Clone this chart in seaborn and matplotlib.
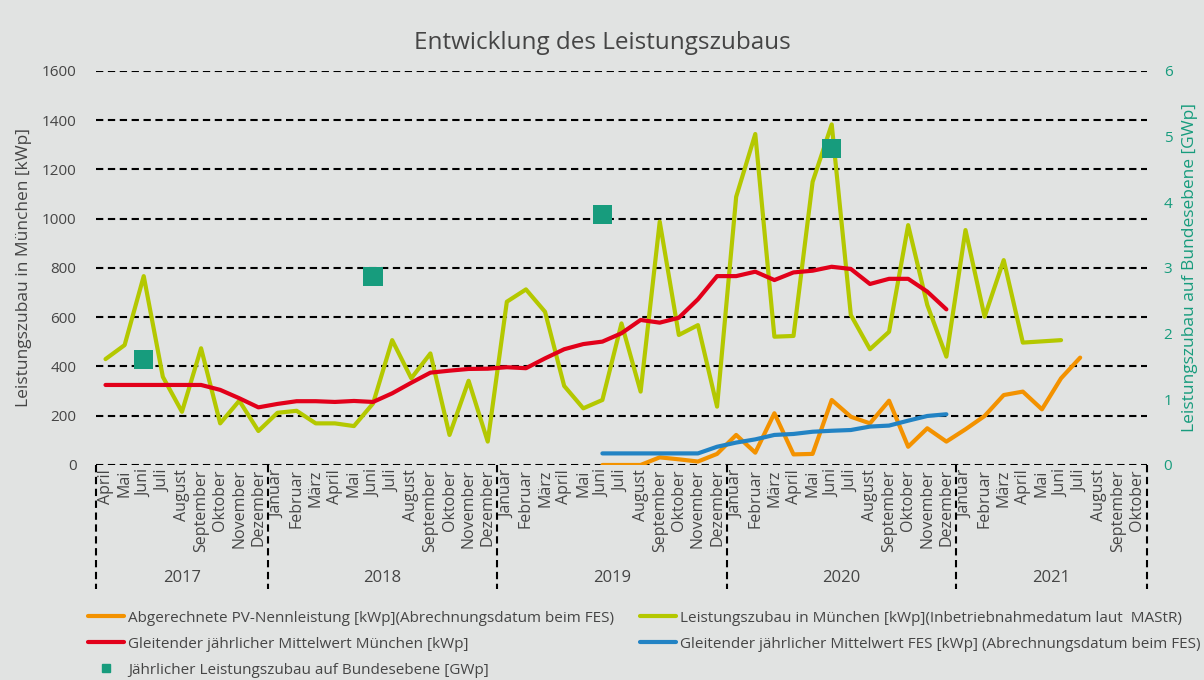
import numpy as np
import pandas as pd
import matplotlib.pyplot as plt
import seaborn as sns
from matplotlib.lines import Line2D

# data, monthly from April 2017 to October 2021
years = ["2017", "2018", "2019", "2020", "2021"]
months_per_year = [
    ["April", "Mai", "Juni", "Juli", "August", "September", "Oktober", "November", "Dezember"],
    ["Januar", "Februar", "März", "April", "Mai", "Juni", "Juli", "August", "September", "Oktober", "November", "Dezember"],
    ["Januar", "Februar", "März", "April", "Mai", "Juni", "Juli", "August", "September", "Oktober", "November", "Dezember"],
    ["Januar", "Februar", "März", "April", "Mai", "Juni", "Juli", "August", "September", "Oktober", "November", "Dezember"],
    ["Januar", "Februar", "März", "April", "Mai", "Juni", "Juli", "August", "September", "Oktober"],
]
nan = np.nan

zubau_muenchen = [
    430, 487, 767, 358, 216, 474, 169, 261, 138,
    212, 220, 169, 169, 158, 250, 507, 352, 453, 122, 342, 95,
    663, 713, 622, 321, 230, 264, 575, 298, 988, 528, 568, 237,
    1089, 1344, 521, 524, 1150, 1383, 609, 470, 541, 974, 650, 440,
    954, 602, 832, 497, 502, 507, nan, nan, nan, nan,
]
mittel_muenchen = [
    325, 325, 325, 325, 325, 325, 305, 271, 234,
    248, 259, 259, 256, 260, 256, 291, 334, 375, 383, 390, 391,
    397, 393, 433, 470, 491, 501, 535, 589, 578, 598, 673, 767,
    767, 785, 751, 782, 789, 805, 796, 735, 756, 756, 704, 632,
    nan, nan, nan, nan, nan, nan, nan, nan, nan, nan,
]
mittel_fes = [
    nan, nan, nan, nan, nan, nan, nan, nan, nan,
    nan, nan, nan, nan, nan, nan, nan, nan, nan, nan, nan, nan,
    nan, nan, nan, nan, nan, 47, 47, 47, 47, 47, 47, 74,
    91, 104, 122, 126, 135, 139, 142, 156, 160, 180, 199, 206,
    nan, nan, nan, nan, nan, nan, nan, nan, nan, nan,
]
pv_fes = [
    nan, nan, nan, nan, nan, nan, nan, nan, nan,
    nan, nan, nan, nan, nan, nan, nan, nan, nan, nan, nan, nan,
    nan, nan, nan, nan, nan, 0, 0, 0, 31, 23, 14, 45,
    122, 50, 210, 43, 45, 264, 196, 169, 261, 74, 149, 95,
    145, 199, 284, 298, 226, 352, 436, nan, nan, nan,
]
# yearly additions in Germany (GWp), shown at June of each year
bund_monat = [2, 14, 26, 38]
bund_gwp = [1.60, 2.87, 3.82, 4.82]

labels = {
    "pv": "Abgerechnete PV-Nennleistung [kWp](Abrechnungsdatum beim FES)",
    "zubau": "Leistungszubau in München [kWp](Inbetriebnahmedatum laut  MAStR)",
    "mittel": "Gleitender jährlicher Mittelwert München [kWp]",
    "fes": "Gleitender jährlicher Mittelwert FES [kWp] (Abrechnungsdatum beim FES)",
    "bund": "Jährlicher Leistungszubau auf Bundesebene [GWp]",
}

c_orange = "#f39200"
c_green = "#b4c800"
c_red = "#e2001a"
c_blue = "#2283c4"
c_teal = "#179c7d"
c_text = "#454545"
bg = "#e1e3e2"

month_labels = [m for ms in months_per_year for m in ms]
n = len(month_labels)
df = pd.DataFrame({
    "idx": np.arange(n),
    "zubau": zubau_muenchen,
    "mittel": mittel_muenchen,
    "fes": mittel_fes,
    "pv": pv_fes,
})

sns.set_style("white", {"axes.facecolor": bg, "figure.facecolor": bg})
plt.rcParams["font.family"] = ["Open Sans", "DejaVu Sans"]

fig = plt.figure(figsize=(12.04, 6.8), dpi=100)
ax = fig.add_axes([0.0797, 0.3162, 0.8730, 0.5794])
ax.set_facecolor(bg)

# dashed grid lines
dash = (0, (3.5, 2.2))
for yv in range(0, 1601, 200):
    ax.axhline(yv, color="black", lw=1.5, linestyle=dash, zorder=1)

lw = 3.0
sns.lineplot(data=df, x="idx", y="pv", color=c_orange, lw=lw, ax=ax, zorder=3)
sns.lineplot(data=df, x="idx", y="zubau", color=c_green, lw=lw, ax=ax, zorder=3)
sns.lineplot(data=df, x="idx", y="mittel", color=c_red, lw=lw, ax=ax, zorder=4)
sns.lineplot(data=df, x="idx", y="fes", color=c_blue, lw=lw, ax=ax, zorder=4)

ax.set_xlim(-0.5, n - 0.5)
ax.set_ylim(0, 1600)
ax.set_yticks(range(0, 1601, 200))
ax.set_xticks(np.arange(n))
ax.set_xticklabels(month_labels, rotation=90, fontsize=11.5, color=c_text)
ax.tick_params(axis="x", length=0, pad=3)
ax.tick_params(axis="y", length=0, labelsize=11, labelcolor=c_text, pad=14)
ax.set_xlabel("")
ax.set_ylabel("Leistungszubau in München [kWp]", fontsize=12.5, color=c_text, labelpad=7)
for s in ax.spines.values():
    s.set_visible(False)

# year separators and year labels
bounds = np.cumsum([0] + [len(m) for m in months_per_year]) - 0.5
trans = ax.get_xaxis_transform()
for b in bounds:
    ax.plot([b, b], [0, -0.315], transform=trans, color="black", lw=1.5,
            linestyle=dash, clip_on=False)
for i, y in enumerate(years):
    ax.text((bounds[i] + bounds[i + 1]) / 2, -0.287, y, transform=trans,
            ha="center", va="center", fontsize=12, color=c_text)

# secondary axis for Germany
ax2 = ax.twinx()
sns.scatterplot(x=bund_monat, y=bund_gwp, marker="s", s=190, color=c_teal,
                edgecolor="none", ax=ax2, zorder=5)
ax2.set_ylim(0, 6)
ax2.set_yticks(range(0, 7))
ax2.tick_params(axis="y", length=0, labelsize=11, labelcolor=c_teal, pad=12)
ax2.set_ylabel("Leistungszubau auf Bundesebene [GWp]", fontsize=12.5, color=c_teal, labelpad=7)
for s in ax2.spines.values():
    s.set_visible(False)

fig.suptitle("Entwicklung des Leistungszubaus", y=0.955, fontsize=17.5, color=c_text)

# legend in two blocks
h = {
    "pv": Line2D([], [], color=c_orange, lw=3),
    "zubau": Line2D([], [], color=c_green, lw=3),
    "mittel": Line2D([], [], color=c_red, lw=3),
    "fes": Line2D([], [], color=c_blue, lw=3),
    "bund": Line2D([], [], color=c_teal, marker="s", ms=6, lw=0),
}
leg_kw = dict(frameon=False, fontsize=11, handlelength=2.4, handletextpad=0.25,
              labelspacing=0.72, labelcolor=c_text)
fig.legend([h["pv"], h["mittel"], h["bund"]],
           [labels["pv"], labels["mittel"], labels["bund"]],
           loc="upper left", bbox_to_anchor=(0.0615, 0.122), **leg_kw)
fig.legend([h["zubau"], h["fes"]], [labels["zubau"], labels["fes"]],
           loc="upper left", bbox_to_anchor=(0.52, 0.122), **leg_kw)

fig.savefig("out.png", dpi=100, facecolor=bg)
